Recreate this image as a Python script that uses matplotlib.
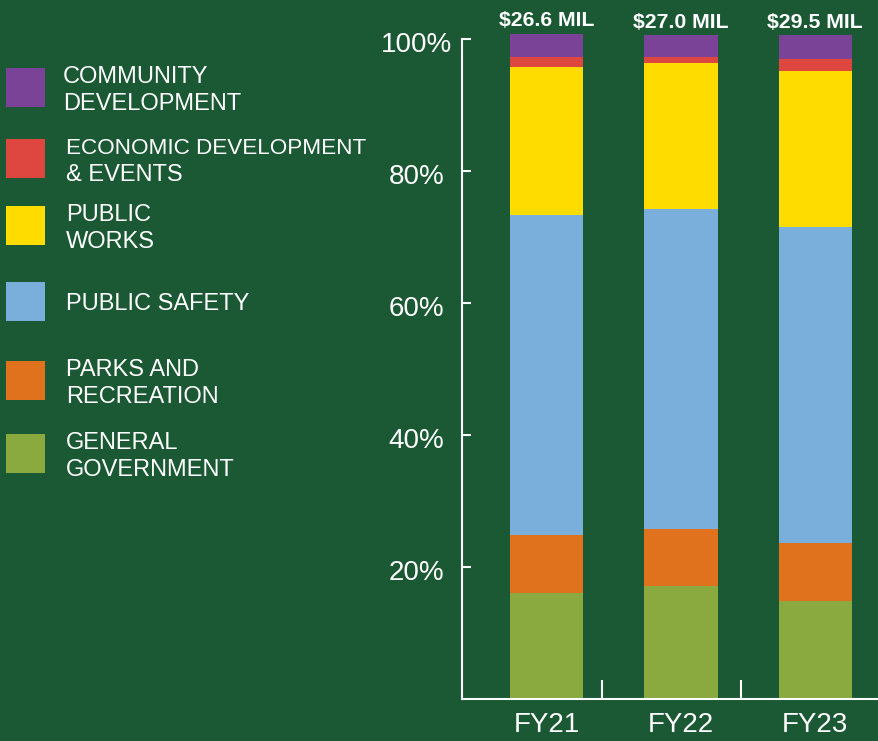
import matplotlib
matplotlib.use("Agg")
import matplotlib.pyplot as plt
from matplotlib.patches import Rectangle
from matplotlib.ticker import FixedLocator
from matplotlib.transforms import ScaledTranslation
import numpy as np

plt.rcParams['font.family'] = ['Liberation Sans', 'DejaVu Sans']

# ---------------- data ----------------
categories = ["FY21", "FY22", "FY23"]
total_labels = ["$26.6 MIL", "$27.0 MIL", "$29.5 MIL"]
general_government = [16.1, 17.1, 14.85]
parks_recreation = [8.7, 8.6, 8.8]
public_safety = [48.6, 48.6, 47.9]
public_works = [22.4, 22.1, 23.6]
economic_development = [1.5, 0.9, 1.8]
community_development = [3.5, 3.3, 3.6]
y_ticks = [20, 40, 60, 80, 100]
y_tick_labels = ["20%", "40%", "60%", "80%", "100%"]

series = [general_government, parks_recreation, public_safety,
          public_works, economic_development, community_development]
series_names = ["GENERAL\nGOVERNMENT", "PARKS AND\nRECREATION", "PUBLIC SAFETY",
                "PUBLIC\nWORKS", "ECONOMIC DEVELOPMENT\n& EVENTS",
                "COMMUNITY\nDEVELOPMENT"]
colors = ["#8AAA3F", "#E1721D", "#7AAFDC", "#FFDC00", "#DE4640", "#7B4397"]

BG = "#1B5834"
W, H = 879, 741

fig = plt.figure(figsize=(W / 100, H / 100), dpi=100, facecolor=BG)
ax = fig.add_axes([462 / W, 42 / H, 1 - 462 / W, 669.9 / H])
ax.set_facecolor(BG)

x = np.arange(len(categories))
bottom = np.zeros(len(categories))
for vals, col in zip(series, colors):
    ax.bar(x, vals, width=0.544, bottom=bottom, color=col, linewidth=0, zorder=2)
    bottom += np.array(vals)

for i, lab in enumerate(total_labels):
    ax.annotate(lab, xy=(x[i], bottom[i]), xytext=(0, 5.3), textcoords="offset points",
                ha="center", va="baseline", color="white", fontsize=15.3,
                fontweight="bold", annotation_clip=False)

ax.set_xlim(-0.6313, 2.4749)
ax.set_ylim(0, 101.5)

for s in ["top", "right"]:
    ax.spines[s].set_visible(False)
for s in ["left", "bottom"]:
    ax.spines[s].set_color("white")
    ax.spines[s].set_linewidth(1.5)
ax.spines["left"].set_bounds(0, 100)

ax.set_yticks(y_ticks)
ax.set_yticklabels(y_tick_labels, ha="center")
ax.tick_params(axis="y", direction="in", length=6.5, width=1.5, colors="white",
               labelsize=20, pad=33)
shift = ScaledTranslation(0, -3 / 100, fig.dpi_scale_trans)
for lbl in ax.get_yticklabels():
    lbl.set_transform(lbl.get_transform() + shift)

ax.set_xticks(x)
ax.set_xticklabels(categories)
ax.tick_params(axis="x", which="major", length=0, colors="white", labelsize=20, pad=9)
ax.xaxis.set_minor_locator(FixedLocator([0.409, 1.447]))
ax.tick_params(axis="x", which="minor", direction="in", length=13.7, width=1.5,
               color="white")

# ---------------- legend (drawn manually) ----------------
legend_tops = [434, 361, 282, 206, 139, 68]   # pixel tops of swatches, matching series order
legend_text_x = [66, 66, 66, 66, 66, 63]
sw = 39
L = 26.7
for name, col, top, tx in zip(series_names, colors, legend_tops, legend_text_x):
    fig.patches.append(Rectangle((6 / W, 1 - (top + sw) / H), sw / W, sw / H,
                                 transform=fig.transFigure, facecolor=col,
                                 edgecolor="none"))
    lines = name.split("\n")
    c = top + sw / 2
    n = len(lines)
    for k, ln in enumerate(lines):
        base = c - (n - 1) * L / 2 + k * L + 9
        fs = 17 if len(ln) < 18 else 16.2
        fig.text(tx / W, 1 - base / H, ln, color="white", fontsize=fs,
                 ha="left", va="baseline")

fig.savefig("out.png", dpi=100, facecolor=BG)
